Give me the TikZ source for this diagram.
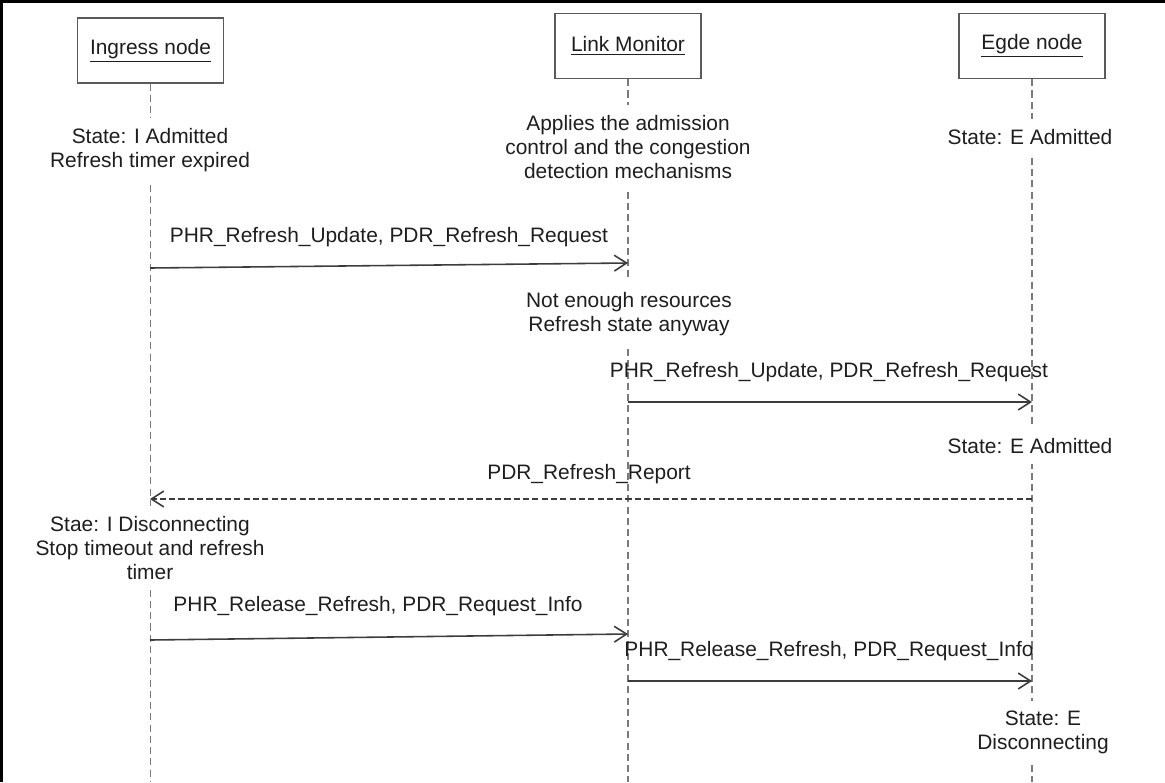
\documentclass[tikz,border=0pt]{standalone}
\usepackage{fontspec}
\setmainfont{Liberation Sans}
\usetikzlibrary{arrows.meta}
\definecolor{boxgray}{HTML}{5A5A5A}
\definecolor{lifegray}{HTML}{7A7A7A}
\definecolor{arrowgray}{HTML}{3C3C3C}
\definecolor{txt}{HTML}{1E1E1E}
\begin{document}
\begin{tikzpicture}[x=0.02cm,y=-0.02cm,
  font=\fontsize{11.9pt}{13.66pt}\selectfont,
  every node/.style={text=txt},
  actor/.style={draw=boxgray,line width=0.85pt,minimum width=2.92cm,minimum height=1.3cm,fill=white},
  lifeline/.style={draw=lifegray,line width=0.8pt,dash pattern=on 4pt off 2.4pt},
  note/.style={fill=white,align=center,inner xsep=2pt,inner ysep=0.2cm},
  msglabel/.style={align=center,inner sep=0pt},
  msg/.style={draw=arrowgray,line width=0.9pt,-{Straight Barb[length=7pt,width=9pt,line width=0.9pt]}},
  reply/.style={msg,dash pattern=on 3.5pt off 1.8pt}
]
\useasboundingbox (0,0) rectangle (1165,782);

% outer frame (left and top edges)
\draw[black,line width=1.7pt,line join=miter] (1.5,782) -- (1.5,1.5) -- (1165,1.5);

% participants
\node[actor] (ing) at (150.5,50.5) {\underline{Ingress node}};
\node[actor] (mon) at (628,46) {\underline{Link Monitor}};
\node[actor] (edg) at (1032,46) {\underline{Egde node}};

% lifelines
\draw[lifeline] (ing.south) -- (ing.south |- 0,782);
\draw[lifeline] (mon.south) -- (mon.south |- 0,782);
\draw[lifeline] (edg.south) -- (edg.south |- 0,782);

% state notes on the lifelines
\node[note] (n1) at (150,150) {State: I Admitted\\Refresh timer expired};
\node[note] (n2) at (628,147) {Applies the admission\\control and the congestion\\detection mechanisms};
\node[note] (n3) at (1030,137) {State: E Admitted};
\node[note] (n4) at (629,314) {Not enough resources\\Refresh state anyway};
\node[note] (n5) at (1030,446) {State: E Admitted};
\node[note] (n6) at (150,548) {Stae: I Disconnecting\\Stop timeout and refresh\\timer};
\node[note] (n7) at (1043,732) {State: E\\Disconnecting};

% message end points
\coordinate (i1) at (150,268);  \coordinate (m1) at (628,263);
\coordinate (m2) at (628,402);  \coordinate (e2) at (1032,402);
\coordinate (e3) at (1032,499); \coordinate (i3) at (150,499);
\coordinate (i4) at (150,640);  \coordinate (m4) at (628,634);
\coordinate (m5) at (628,681);  \coordinate (e5) at (1032,681);

% messages
\draw[msg] (i1) -- (m1);
\node[msglabel] (l1) at (389,237) {PHR\_Refresh\_Update, PDR\_Refresh\_Request};
\draw[msg] (m2) -- (e2);
\node[msglabel] (l2) at (829,372) {PHR\_Refresh\_Update, PDR\_Refresh\_Request};
\draw[reply] (e3) -- (i3);
\node[msglabel] (l3) at (589,474) {PDR\_Refresh\_Report};
\draw[msg] (i4) -- (m4);
\node[msglabel] (l4) at (378,606) {PHR\_Release\_Refresh, PDR\_Request\_Info};
\draw[msg] (m5) -- (e5);
\node[msglabel] (l5) at (829,651) {PHR\_Release\_Refresh, PDR\_Request\_Info};
\end{tikzpicture}
\end{document}
